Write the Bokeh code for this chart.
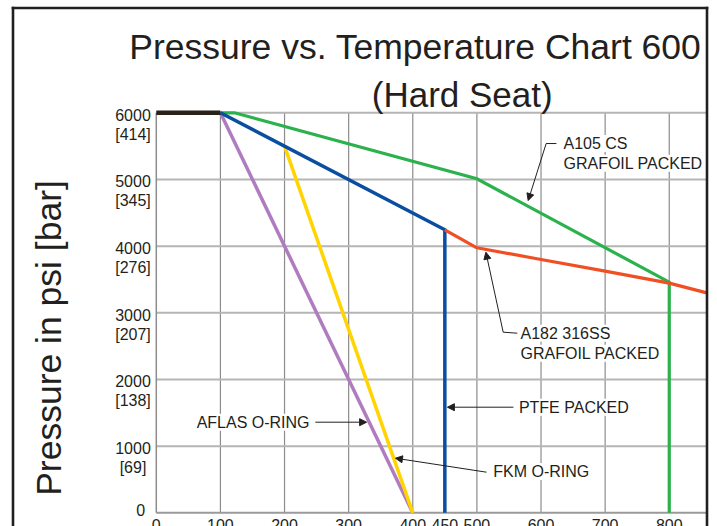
import math
from bokeh.plotting import figure
from bokeh.models import Label, Arrow, NormalHead, Range1d
from bokeh.embed import file_html
from bokeh.resources import INLINE

FONT = "Liberation Sans"
INK = "#231f20"

# ---- data (temperature °F, pressure psi) ----
temp_common = [0, 100]
psi_common = [6000, 6000]
temp_a105 = [100, 122, 500, 800, 800]
psi_a105 = [6000, 6000, 5010, 3460, 0]
temp_ptfe = [100, 450, 450]
psi_ptfe = [6000, 4245, 0]
temp_a182 = [450, 500, 600, 700, 800, 860]
psi_a182 = [4245, 3975, 3800, 3625, 3445, 3295]
temp_fkm = [200, 400]
psi_fkm = [5500, 0]
temp_aflas = [100, 400]
psi_aflas = [6000, 0]

x_ticks = [0, 100, 200, 300, 400, 450, 500, 600, 700, 800]
x_grid = [100, 200, 300, 400, 500, 600, 700, 800]
y_ticks = [0, 1000, 2000, 3000, 4000, 5000, 6000]
bar_labels = ["", "[69]", "[138]", "[207]", "[276]", "[345]", "[414]"]

title_1 = "Pressure vs. Temperature Chart 600"
title_2 = "(Hard Seat)"
y_title = "Pressure in psi [bar]"

# ---- canvas geometry: where temperature 0 / pressure 0 sit, and px per unit ----
W, H = 717, 526
X0, SX = 155.8, 0.6412
Y0, SY = 512.3, 0.066667


def dx(cx):
    return (cx - X0) / SX


def dy(cy):
    return (Y0 - cy) / SY


p = figure(width=W, height=H, x_range=Range1d(dx(0), dx(W)), y_range=Range1d(dy(H), dy(0)),
           output_backend="svg", toolbar_location=None, title=None,
           min_border_left=0, min_border_right=0, min_border_top=0, min_border_bottom=0)
p.axis.visible = False
p.grid.visible = False
p.outline_line_color = None
p.background_fill_color = "white"
p.border_fill_color = "white"

x_end = dx(706)

# grid
p.segment(x0=x_grid, y0=[0] * len(x_grid), x1=x_grid, y1=[6000] * len(x_grid),
          line_color="#8c8c8c", line_width=1.2)
yg = y_ticks[1:]
p.segment(x0=[0] * len(yg), y0=yg, x1=[x_end] * len(yg), y1=yg, line_color="#b5b5b5", line_width=2)
# axis lines
p.segment(x0=[0], y0=[0], x1=[0], y1=[6000], line_color="#8c8c8c", line_width=1.5)
p.segment(x0=[0], y0=[0], x1=[x_end], y1=[0], line_color="#9a9a9a", line_width=2)

# series
p.line(temp_aflas, psi_aflas, line_color="#b07cc0", line_width=3.5)
p.line(temp_fkm, psi_fkm, line_color="#ffd400", line_width=3.5)
p.line(temp_a105, psi_a105, line_color="#2bb24c", line_width=3.2, line_join="miter")
p.line(temp_ptfe, psi_ptfe, line_color="#0a4ea2", line_width=3.5, line_join="miter")
p.line(temp_a182, psi_a182, line_color="#f04e23", line_width=3.2, line_join="round")
p.line(temp_common, psi_common, line_color="#2a2118", line_width=4.5)


def lab(x, y, text, size=16, align="left", baseline="middle", xo=0, yo=0, angle=0, bg=None):
    p.add_layout(Label(x=x, y=y, text=text, text_font=FONT, text_font_size=f"{size}px",
                       text_color=INK, text_align=align, text_baseline=baseline,
                       x_offset=xo, y_offset=yo, angle=angle, background_fill_color=bg))


def arrow(x0, y0, x1, y1, head=True):
    end = NormalHead(size=7, fill_color=INK, line_color=INK, line_width=1) if head else None
    p.add_layout(Arrow(end=end, x_start=x0, y_start=y0, x_end=x1, y_end=y1,
                       line_color=INK, line_width=1))


# tick labels
for t, b in zip(y_ticks, bar_labels):
    if t == 0:
        lab(0, t, "0", align="center", xo=-15.5, yo=3)
    else:
        lab(0, t, str(t), align="center", xo=-23.3, yo=-2)
        lab(0, t, b, align="center", xo=-23.3, yo=-21.5)
for t in x_ticks:
    lab(t, 0, str(t), align="center", yo=-12)

# titles
lab(0, 6000, title_1, size=35.5, align="left", baseline="alphabetic", xo=-27, yo=65.6)
lab(0, 6000, title_2, size=35, align="center", baseline="alphabetic", xo=305.9, yo=17.8)
lab(0, 2622, y_title, size=35.5, align="center", xo=-107.8, angle=math.pi / 2)

# annotations
arrow(624, 5539, 608, 5539, head=False)
arrow(608, 5539, 580, 4684)
lab(635, 5539, "A105 CS", bg="white")
lab(635, 5244, "GRAFOIL PACKED", bg="white")

arrow(563, 2694, 541, 2709, head=False)
arrow(541, 2709, 514, 3909)
lab(568, 2694, "A182 316SS", bg="white")
lab(568, 2394, "GRAFOIL PACKED", bg="white")

arrow(557, 1584, 454, 1584)
lab(565.5, 1584, "PTFE PACKED", bg="white")

arrow(515, 609, 373, 819)
lab(525.6, 619, "FKM O-RING", bg="white")

arrow(248, 1359, 328, 1359)
lab(239, 1359, "AFLAS O-RING", align="right", bg="white")

# outer frame (left, top, right) of the drawing sheet
fl, fr, ft, fb = dx(12.5), dx(706.5), dy(7.5), dy(H)
p.segment(x0=[fl, fl, fr], y0=[fb, ft, ft], x1=[fl, fr, fr], y1=[ft, ft, fb],
          line_color=INK, line_width=2.6, line_cap="square")

open("out.html", "w").write(file_html(p, INLINE))
